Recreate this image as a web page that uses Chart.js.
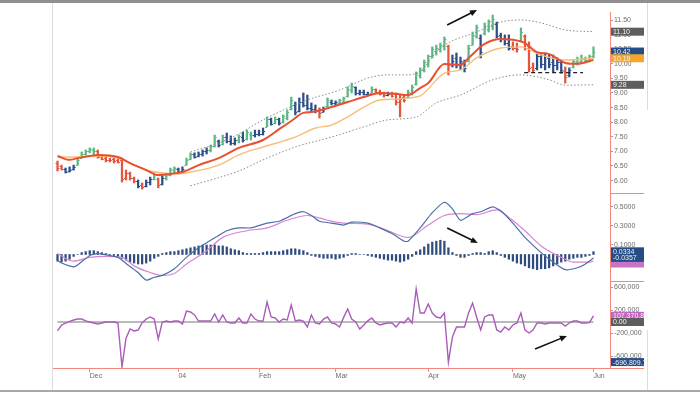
<!DOCTYPE html>
<html>
<head>
<meta charset="utf-8">
<script src="https://cdn.jsdelivr.net/npm/chart.js@4.4.0/dist/chart.umd.min.js"></script>
<style>
  html, body { margin: 0; padding: 0; background: #fff; }
  #wrap { width: 700px; height: 393px; position: relative; }
</style>
</head>
<body>
<div id="wrap"><canvas id="chart" width="700" height="393"></canvas></div>
<script>
// ---- data (bar index 0 = 18 Nov 2003, one bar per trading day) ----
const monthTicks = [8, 30, 50, 69, 92, 113, 133];
const monthLabels = ['Dec', '04', 'Feb', 'Mar', 'Apr', 'May', 'Jun'];
const priceTicks = [6, 6.5, 7, 7.5, 8, 8.5, 9, 9.5, 10, 10.5, 11, 11.5];
const macdTicks = [0.1, 0.3, 0.5];
const forceTicks = [-600000, -200000, 200000, 600000];

const highs = [
  6.67,6.53,6.43,6.47,6.53,6.77,6.98,7.05,7.12,7.12,
  7.05,6.88,6.81,6.77,6.81,6.77,6.77,6.36,6.29,6.12,
  6.02,5.92,6.02,6.12,6.26,6.09,6.16,6.26,6.43,6.47,
  6.43,6.47,6.77,6.95,6.95,6.98,7.05,7.12,7.22,7.56,
  7.39,7.56,7.63,7.53,7.46,7.56,7.66,7.73,7.66,7.73,
  7.73,7.80,8.18,8.14,8.18,8.14,8.25,8.42,8.86,8.69,
  8.83,9.00,8.93,8.66,8.59,8.49,8.52,8.83,8.76,8.73,
  8.79,8.86,9.21,9.34,9.21,9.10,9.10,9.03,9.21,9.14,
  9.10,9.03,9.03,9.03,9.00,8.93,8.93,9.10,9.27,9.72,
  9.86,10.13,10.30,10.58,10.64,10.71,10.92,10.64,10.30,10.37,
  10.23,10.13,10.64,11.09,11.33,10.99,11.40,11.50,11.67,11.43,
  11.05,10.99,10.99,10.75,10.71,11.23,10.99,10.75,10.03,10.40,
  10.37,10.37,10.30,10.30,10.20,10.13,9.89,9.86,10.13,10.23,
  10.30,10.23,10.30,10.58
];
const lows = [
  6.33,6.36,6.26,6.29,6.36,6.53,6.77,6.88,6.95,6.88,
  6.77,6.71,6.64,6.64,6.60,6.60,5.95,6.02,6.02,5.92,
  5.75,5.71,5.78,5.85,6.02,5.75,5.85,6.02,6.16,6.26,
  6.23,6.29,6.53,6.71,6.77,6.81,6.84,6.91,6.98,7.15,
  7.15,7.22,7.29,7.22,7.22,7.29,7.32,7.39,7.39,7.49,
  7.53,7.56,7.84,7.90,7.94,7.90,7.97,8.08,8.42,8.25,
  8.35,8.52,8.42,8.35,8.32,8.14,8.35,8.52,8.59,8.59,
  8.62,8.66,8.86,9.00,8.93,8.93,8.93,8.90,9.00,9.00,
  8.93,8.86,8.90,8.86,8.59,8.18,8.69,8.83,8.93,9.27,
  9.51,9.72,9.89,10.20,10.30,10.40,10.47,9.62,9.89,9.86,
  9.79,9.72,10.06,10.64,10.88,10.20,10.99,11.09,11.16,10.88,
  10.75,10.64,10.47,10.47,10.40,10.75,10.47,9.72,9.72,9.79,
  9.86,9.79,9.86,9.72,9.79,9.68,9.34,9.55,9.86,9.96,
  10.03,10.03,10.06,10.20
];
const opens = [
  6.60,6.50,6.40,6.32,6.40,6.55,6.78,6.92,7.00,7.05,
  7.00,6.85,6.78,6.70,6.75,6.70,6.70,6.10,6.25,6.08,
  5.98,5.85,5.80,5.95,6.05,6.05,5.88,6.10,6.20,6.35,
  6.40,6.32,6.55,6.75,6.90,6.85,6.90,7.00,7.05,7.20,
  7.35,7.25,7.50,7.35,7.30,7.40,7.50,7.42,7.60,7.55,
  7.60,7.60,7.85,8.10,7.98,8.10,8.00,8.15,8.45,8.60,
  8.40,8.70,8.60,8.50,8.45,8.40,8.35,8.55,8.70,8.65,
  8.65,8.70,8.88,9.10,9.20,9.00,9.05,8.98,9.00,9.12,
  9.05,9.00,8.92,9.00,8.95,8.70,8.85,8.85,9.00,9.30,
  9.60,9.80,10.00,10.25,10.45,10.50,10.60,10.60,10.00,10.20,
  9.95,10.05,10.10,10.65,10.95,10.90,11.05,11.20,11.30,11.35,
  11.00,10.85,10.70,10.60,10.55,10.80,10.95,10.60,9.90,9.85,
  10.25,10.00,10.20,10.05,9.95,10.05,9.75,9.60,9.90,10.05,
  10.10,10.15,10.12,10.25
];
const closes = [
  6.42,6.40,6.30,6.35,6.48,6.72,6.92,7.00,7.08,7.02,
  6.82,6.75,6.70,6.72,6.66,6.65,6.05,6.25,6.08,5.98,
  5.82,5.78,5.95,6.05,6.22,5.85,6.10,6.22,6.38,6.42,
  6.30,6.40,6.72,6.90,6.82,6.90,7.00,7.05,7.18,7.48,
  7.22,7.50,7.35,7.30,7.40,7.52,7.40,7.65,7.55,7.60,
  7.58,7.70,8.10,7.95,8.12,7.98,8.20,8.35,8.75,8.35,
  8.70,8.60,8.50,8.45,8.40,8.30,8.45,8.75,8.65,8.68,
  8.75,8.82,9.15,9.25,9.00,9.05,8.98,8.95,9.15,9.05,
  8.98,8.92,8.98,8.90,8.70,8.80,8.75,9.05,9.22,9.68,
  9.80,10.05,10.25,10.50,10.55,10.65,10.85,9.95,10.10,9.95,
  10.10,9.85,10.55,11.00,11.25,10.40,11.30,11.45,11.55,10.95,
  10.85,10.70,10.55,10.55,10.50,11.10,10.55,9.85,9.80,10.25,
  10.00,10.25,10.00,9.95,10.05,9.80,9.55,9.80,10.08,10.15,
  10.20,10.12,10.25,10.42
];
// impulse colour per bar: G = green, B = blue, R = red
const impulse = (
  'RRBBBGGGGG' + 'RRRRRRRRRR' + 'BRBBGRBGGG' + 'BBGGBBBBGG' + 'BGBBBGBGGB' +
  'BBGBGBGGGB' + 'BBBBBRBGBB' + 'GGGGBBBBGR' + 'RRBRRRRGGG' + 'GGGGGGGRBB' +
  'BBGGGBGGGB' + 'BBBRRGRRRB' + 'BBBBBBRBGG' + 'GGGG'
).split('');

// moving averages and channel, read as [bar, price]
const fastEma = [[0,6.84],[3,6.71],[5,6.77],[8,6.84],[10,6.88],[15,6.81],[18,6.60],[22,6.36],[25,6.19],[28,6.23],
  [31,6.29],[35,6.53],[40,6.77],[45,7.12],[51,7.39],[55,7.76],[58,8.04],[61,8.32],[63,8.35],[68,8.52],[72,8.69],
  [76,8.86],[80,9.00],[84,8.97],[87,8.93],[90,9.17],[92,9.34],[96,9.99],[100,9.96],[102,10.20],[106,10.68],
  [110,10.85],[113,10.82],[116,10.71],[119,10.40],[122,10.33],[126,10.03],[129,10.00],[133,10.13]];
const slowEma = [[0,6.81],[6,6.81],[10,6.84],[15,6.77],[20,6.47],[23,6.33],[26,6.26],[30,6.23],[33,6.29],[40,6.53],
  [45,6.88],[51,7.15],[59,7.49],[64,7.80],[68,7.90],[72,8.18],[76,8.52],[80,8.76],[84,8.79],[87,8.83],[90,8.90],
  [96,9.68],[100,9.79],[104,10.20],[110,10.54],[115,10.58],[120,10.30],[126,10.13],[133,10.19]];
const upperBand = [[33,6.98],[40,7.29],[45,7.60],[51,8.08],[62,8.76],[70,9.10],[77,9.51],[82,9.62],[87,9.62],[90,9.75],
  [95,10.54],[104,11.09],[110,11.43],[115,11.50],[120,11.40],[126,11.16],[133,11.10]];
const lowerBand = [[33,5.82],[45,6.33],[51,6.71],[59,7.15],[68,7.49],[76,7.84],[82,8.08],[89,8.18],[94,8.66],[100,8.93],
  [108,9.45],[115,9.62],[122,9.45],[126,9.27],[133,9.28]];
const supportLine = [[115.8,9.70],[130.4,9.70]];

// MACD panel
const macdLine = [[0,-0.06],[1,-0.09],[4,-0.13],[5,-0.11],[8,-0.01],[10,0.01],[15,-0.03],[17,-0.095],[20,-0.19],[22,-0.27],
  [24,-0.24],[26,-0.22],[29,-0.15],[32,-0.03],[35,0.07],[40,0.20],[42,0.25],[45,0.28],[48,0.28],[52,0.33],[55,0.35],
  [59,0.43],[61,0.45],[63,0.41],[65,0.35],[68,0.33],[71,0.31],[73,0.34],[77,0.33],[80,0.28],[83,0.22],[86,0.14],
  [87,0.14],[90,0.28],[93,0.44],[96,0.55],[98,0.48],[100,0.36],[103,0.43],[105,0.45],[108,0.50],[110,0.46],
  [113,0.33],[116,0.18],[120,0.02],[123,-0.08],[126,-0.16],[129,-0.14],[131,-0.10],[133,-0.036]];
const signalLine = [[0,0.01],[4,-0.07],[8,-0.03],[12,-0.02],[16,-0.03],[19,-0.12],[23,-0.19],[26,-0.22],[29,-0.20],
  [32,-0.10],[37,0.04],[41,0.18],[47,0.25],[52,0.28],[57,0.36],[62,0.41],[67,0.36],[71,0.33],[77,0.32],[82,0.25],
  [87,0.18],[92,0.31],[96,0.41],[100,0.43],[104,0.42],[109,0.47],[112,0.39],[116,0.25],[120,0.09],[125,-0.03],
  [128,-0.08],[132,-0.08],[133,-0.07]];
const macdHist = [
  -0.07,-0.08,-0.07,-0.05,-0.02,0.00,0.02,0.03,0.04,0.04,
  0.03,0.02,0.01,0.00,-0.01,-0.02,-0.04,-0.06,-0.08,-0.09,
  -0.10,-0.10,-0.09,-0.07,-0.04,-0.02,0.01,0.02,0.03,0.03,
  0.04,0.05,0.06,0.07,0.08,0.09,0.10,0.10,0.10,0.10,
  0.09,0.09,0.08,0.06,0.05,0.04,0.02,0.01,0.01,0.01,
  0.01,0.02,0.03,0.03,0.03,0.03,0.04,0.05,0.06,0.06,
  0.05,0.04,0.02,-0.01,-0.02,-0.03,-0.04,-0.04,-0.04,-0.05,
  -0.04,-0.03,-0.01,0.01,0.01,0.00,0.00,-0.01,-0.02,-0.03,
  -0.04,-0.05,-0.06,-0.06,-0.07,-0.08,-0.07,-0.05,-0.02,0.03,
  0.05,0.08,0.11,0.13,0.14,0.15,0.14,0.07,0.02,-0.01,
  -0.03,-0.03,-0.01,0.01,0.02,0.02,0.01,0.03,0.04,0.02,
  -0.01,-0.03,-0.05,-0.07,-0.09,-0.10,-0.12,-0.14,-0.15,-0.16,
  -0.15,-0.15,-0.14,-0.12,-0.10,-0.08,-0.07,-0.05,-0.04,-0.03,
  -0.03,-0.02,-0.01,0.03
];

// force index panel
const forceIndex = [
  -156000,-52000,-20000,10000,35000,52000,52000,20000,0,-17000,
  -35000,-17000,0,0,0,-17000,-780000,-280000,-120000,-156000,
  -140000,-17000,52000,87000,52000,-296000,0,17000,0,17000,
  17000,-35000,191000,174000,122000,17000,17000,17000,17000,139000,
  0,122000,0,-17000,-17000,70000,-17000,-17000,139000,52000,
  17000,17000,348000,87000,70000,0,52000,35000,296000,17000,
  35000,17000,-87000,122000,-17000,-35000,52000,87000,-17000,-35000,
  -87000,80000,226000,52000,0,-122000,-52000,20000,70000,-17000,
  -52000,-30000,-17000,-17000,-87000,0,-17000,70000,-17000,574000,
  156000,156000,313000,156000,87000,70000,156000,-696810,-260000,-87000,
  -87000,-87000,156000,330000,87000,-139000,87000,122000,122000,-139000,
  -174000,-87000,-139000,-52000,-17000,156000,-139000,-191000,-139000,-17000,
  -17000,-35000,-17000,-17000,-17000,-17000,-70000,-17000,17000,17000,
  -17000,-17000,-10000,107371
];

// last-value tags on the right axis: [value, text, colour]
const priceTags = [[11.10,'11.10','#5e5e5e'],[10.42,'10.42','#264d86'],[10.19,'10.19','#f4a52c'],[9.28,'9.28','#5e5e5e']];
const macdTags = [[-0.095,'','#c874c4'],[0.0334,'0.0334','#264d86'],[-0.0357,'-0.0357','#264d86']];
const forceTags = [[107370.83,'107,370.83','#c266c2'],[0,'0.00','#5e5e5e'],[-696809.7,'-696,809.7','#264d86']];

// annotation arrows: [axis, fromBar, fromValue, toBar, toValue]
const arrows = [['yP',96.7,11.33,104.1,11.84],['yM',96.7,0.279,104.3,0.121],['yV',118.5,-469600,126.4,-243000]];

// ---- chart ----
const barColours = { G: '#5cb784', B: '#2c4f89', R: '#e3553c' };
const pts = arr => arr.map(([x, y]) => ({ x, y }));
const axisRed = '#f2897b';
const tickFont = { family: 'Liberation Sans', size: 7 };

const fmtThousands = v => {
  const s = Math.abs(v).toString().replace(/\B(?=(\d{3})+(?!\d))/g, ',');
  return (v < 0 ? '-' : '') + s;
};

const yAxis = (ticksArr, weight, min, max, fmt) => ({
  type: 'linear', position: 'right', stack: 'panels', stackWeight: weight, min, max,
  grid: { drawOnChartArea: false, drawTicks: true, tickLength: 3, color: '#9c9c9c' },
  border: { display: true, color: axisRed },
  ticks: { font: tickFont, color: '#6b6b6b', padding: 1, autoSkip: false, callback: fmt },
  afterBuildTicks: s => { s.ticks = ticksArr.map(v => ({ value: v })); },
  afterFit: s => { s.width = 37; }
});

const decorations = {
  id: 'decorations',
  afterDatasetDraw(chart, args) {
    if (args.meta.label !== 'price') return;
    const { ctx } = chart;
    const xs = chart.scales.x, ys = chart.scales.yP;
    ctx.save();
    ctx.lineWidth = 1;
    highs.forEach((h, i) => {
      const x = xs.getPixelForValue(i);
      ctx.strokeStyle = barColours[impulse[i]];
      const yo = Math.round(ys.getPixelForValue(opens[i])) + 0.5;
      const yc = Math.round(ys.getPixelForValue(closes[i])) + 0.5;
      ctx.beginPath();
      ctx.moveTo(x - 2, yo); ctx.lineTo(x, yo);
      ctx.moveTo(x, yc); ctx.lineTo(x + 2, yc);
      ctx.stroke();
    });
    ctx.restore();
  },
  afterDatasetsDraw(chart) {
    const { ctx } = chart;
    const xs = chart.scales.x;
    ctx.save();
    ctx.strokeStyle = '#111';
    ctx.fillStyle = '#111';
    ctx.lineWidth = 1.6;
    arrows.forEach(([axis, x0, y0, x1, y1]) => {
      const ys = chart.scales[axis];
      const ax = xs.getPixelForValue(x0), ay = ys.getPixelForValue(y0);
      const bx = xs.getPixelForValue(x1), by = ys.getPixelForValue(y1);
      const ang = Math.atan2(by - ay, bx - ax);
      ctx.beginPath();
      ctx.moveTo(ax, ay);
      ctx.lineTo(bx - 5 * Math.cos(ang), by - 5 * Math.sin(ang));
      ctx.stroke();
      ctx.beginPath();
      ctx.moveTo(bx, by);
      ctx.lineTo(bx - 7 * Math.cos(ang) + 3 * Math.sin(ang), by - 7 * Math.sin(ang) - 3 * Math.cos(ang));
      ctx.lineTo(bx - 7 * Math.cos(ang) - 3 * Math.sin(ang), by - 7 * Math.sin(ang) + 3 * Math.cos(ang));
      ctx.closePath();
      ctx.fill();
    });
    ctx.restore();
  },
  afterDraw(chart) {
    const { ctx, chartArea } = chart;
    const right = chartArea.right;
    ctx.save();
    // panel separators next to the axis and the extended time axis line
    ctx.strokeStyle = axisRed;
    ctx.lineWidth = 1;
    ctx.beginPath();
    [chart.scales.yM.top, chart.scales.yV.top].forEach(y => {
      ctx.moveTo(right, Math.round(y) + 0.5); ctx.lineTo(644, Math.round(y) + 0.5);
    });
    ctx.moveTo(right, Math.round(chartArea.bottom) + 0.5); ctx.lineTo(644, Math.round(chartArea.bottom) + 0.5);
    ctx.stroke();

    // last-value tags
    ctx.font = '7px "Liberation Sans"';
    ctx.textBaseline = 'middle';
    const drawTags = (tags, scale) => tags.forEach(([v, t, c]) => {
      const y = scale.getPixelForValue(v);
      ctx.fillStyle = c;
      ctx.fillRect(right + 1, y - 4, 33, 8);
      ctx.fillStyle = '#f2f2f2';
      ctx.fillText(t, right + 3, y + 0.5);
    });
    drawTags(priceTags, chart.scales.yP);
    drawTags(macdTags, chart.scales.yM);
    drawTags(forceTags, chart.scales.yV);

    // outer frame of the screenshot
    ctx.fillStyle = '#8e8e8e';
    ctx.fillRect(0, 0, 700, 3);
    ctx.fillStyle = '#a8a8a8';
    ctx.fillRect(0, 390, 700, 2);
    ctx.fillStyle = '#dcdcdc';
    ctx.fillRect(52, 3, 1, 387);
    ctx.fillRect(647, 3, 1, 107);
    ctx.fillRect(647, 330, 1, 60);
    ctx.restore();
  }
};

new Chart(document.getElementById('chart'), {
  type: 'bar',
  data: {
    datasets: [
      { type: 'line', label: 'support', data: pts(supportLine), yAxisID: 'yP', borderColor: '#222', borderWidth: 1.3,
        borderDash: [4, 3], pointRadius: 0 },
      { type: 'line', label: 'fast', data: pts(fastEma), yAxisID: 'yP', borderColor: '#e8502f', borderWidth: 2,
        pointRadius: 0, cubicInterpolationMode: 'monotone' },
      { type: 'line', label: 'slow', data: pts(slowEma), yAxisID: 'yP', borderColor: '#f9bd78', borderWidth: 1.4,
        pointRadius: 0, cubicInterpolationMode: 'monotone' },
      { type: 'line', label: 'upper', data: pts(upperBand), yAxisID: 'yP', borderColor: '#8a8a8a', borderWidth: 1,
        borderDash: [1.5, 2], pointRadius: 0, cubicInterpolationMode: 'monotone' },
      { type: 'line', label: 'lower', data: pts(lowerBand), yAxisID: 'yP', borderColor: '#8a8a8a', borderWidth: 1,
        borderDash: [1.5, 2], pointRadius: 0, cubicInterpolationMode: 'monotone' },
      { type: 'bar', label: 'price', data: highs.map((h, i) => ({ x: i, y: [lows[i], h] })), yAxisID: 'yP',
        backgroundColor: impulse.map(c => barColours[c]), barThickness: 1.6, grouped: false },
      { type: 'line', label: 'macd', data: pts(macdLine), yAxisID: 'yM', borderColor: '#4e6fa6', borderWidth: 1.2,
        pointRadius: 0, tension: 0.2 },
      { type: 'line', label: 'signal', data: pts(signalLine), yAxisID: 'yM', borderColor: '#d884d0', borderWidth: 1.2,
        pointRadius: 0, cubicInterpolationMode: 'monotone' },
      { type: 'bar', label: 'hist', data: macdHist.map((v, i) => ({ x: i, y: v })), yAxisID: 'yM',
        backgroundColor: '#2f4c7c', barThickness: 1.6, grouped: false },
      { type: 'line', label: 'force', data: forceIndex.map((v, i) => ({ x: i, y: v })), yAxisID: 'yV',
        borderColor: '#aa5cb9', borderWidth: 1.4, pointRadius: 0, tension: 0 },
      { type: 'line', label: 'zero', data: [{ x: 0, y: 0 }, { x: 133, y: 0 }], yAxisID: 'yV',
        borderColor: '#a3a3a3', borderWidth: 1.6, pointRadius: 0 }
    ]
  },
  options: {
    responsive: false,
    devicePixelRatio: 1,
    animation: false,
    events: [],
    layout: { padding: { left: 53, right: 53, top: 12, bottom: 9 } },
    plugins: { legend: { display: false }, tooltip: { enabled: false } },
    scales: {
      x: {
        type: 'linear', position: 'bottom', min: -1.12, max: 137.1, offset: false,
        grid: { offset: false, drawOnChartArea: false, drawTicks: true, tickLength: 4, color: axisRed },
        border: { display: true, color: axisRed },
        ticks: { font: tickFont, color: '#6b6b6b', padding: 0, align: 'start', maxRotation: 0, autoSkip: false,
          callback: (v, i) => monthLabels[i] },
        afterBuildTicks: s => { s.ticks = monthTicks.map(v => ({ value: v })); },
        afterFit: s => { s.height = 16; }
      },
      yP: yAxis(priceTicks, 181, 5.575, 11.774, v => v.toFixed(2)),
      yM: yAxis(macdTicks, 88, -0.279, 0.647, v => v.toFixed(4)),
      yV: yAxis(forceTicks, 87, -800000, 713000, fmtThousands)
    }
  },
  plugins: [decorations]
});
</script>
</body>
</html>
